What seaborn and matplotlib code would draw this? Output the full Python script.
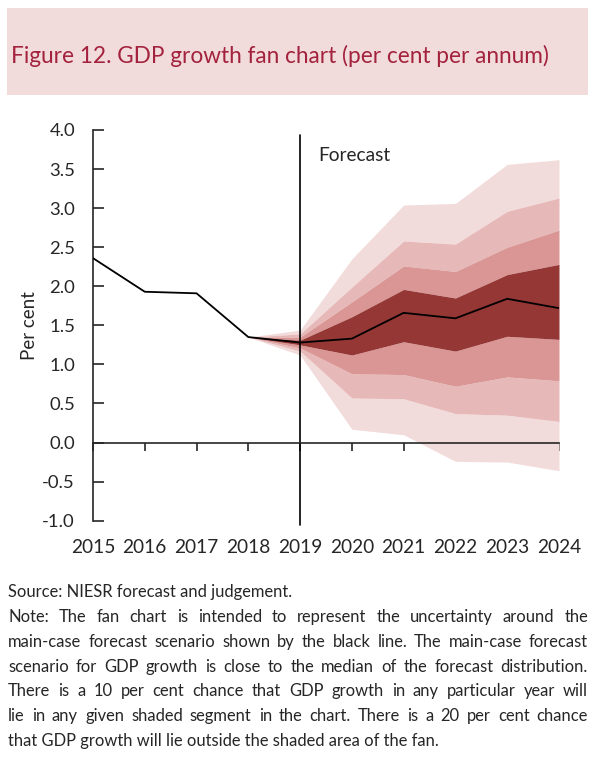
import matplotlib
matplotlib.use("Agg")
import matplotlib.pyplot as plt
from matplotlib.patches import Rectangle
import seaborn as sns
import pandas as pd

# Main-case forecast line
years = [2015, 2016, 2017, 2018, 2019, 2020, 2021, 2022, 2023, 2024]
gdp = [2.36, 1.93, 1.91, 1.35, 1.28, 1.33, 1.66, 1.59, 1.84, 1.72]

# Fan bounds (inner -> outer)
fan_years = [2018, 2019, 2020, 2021, 2022, 2023, 2024]
up1 = [1.35, 1.31, 1.61, 1.96, 1.85, 2.15, 2.28]
up2 = [1.35, 1.35, 1.80, 2.26, 2.19, 2.50, 2.72]
up3 = [1.35, 1.39, 1.99, 2.58, 2.54, 2.96, 3.13]
up4 = [1.35, 1.44, 2.35, 3.04, 3.06, 3.56, 3.62]
lo1 = [1.35, 1.25, 1.12, 1.29, 1.17, 1.36, 1.32]
lo2 = [1.35, 1.21, 0.88, 0.87, 0.72, 0.84, 0.79]
lo3 = [1.35, 1.17, 0.57, 0.56, 0.37, 0.35, 0.27]
lo4 = [1.35, 1.12, 0.17, 0.10, -0.24, -0.25, -0.36]

yticks = [4.0, 3.5, 3.0, 2.5, 2.0, 1.5, 1.0, 0.5, 0.0, -0.5, -1.0]

title = "Figure 12. GDP growth fan chart (per cent per annum)"
source = "Source: NIESR forecast and judgement."
note_lines = [
    "Note: The fan chart is intended to represent the uncertainty around the",
    "main-case forecast scenario shown by the black line. The main-case forecast",
    "scenario for GDP growth is close to the median of the forecast distribution.",
    "There is a 10 per cent chance that GDP growth in any particular year will",
    "lie in any given shaded segment in the chart. There is a 20 per cent chance",
]
note_last = "that GDP growth will lie outside the shaded area of the fan."

shades = ["#953735", "#D99694", "#E6B9B8", "#F2DCDB"]
title_bg = "#F2DCDB"
title_col = "#A3223D"

sns.set_style("ticks")
plt.rcParams['font.family'] = ['Lato', 'DejaVu Sans']

W, H = 606, 764
fig = plt.figure(figsize=(W / 100, H / 100), dpi=100)

def fx(px):
    return px / W

def fy(py):
    return 1 - py / H

# title box
fig.patches.append(Rectangle((fx(7), fy(95)), fx(581), 87 / H, transform=fig.transFigure,
                             facecolor=title_bg, edgecolor="none", zorder=0))
fig.text(fx(11), fy(56), title, color=title_col, fontsize=16.3, va="center", ha="left")

ax = fig.add_axes([fx(93), fy(520.7), fx(466), 390.7 / H])

df = pd.DataFrame({"year": years, "gdp": gdp})
fan = pd.DataFrame({"year": fan_years, "up1": up1, "up2": up2, "up3": up3, "up4": up4,
                    "lo1": lo1, "lo2": lo2, "lo3": lo3, "lo4": lo4})

ax.fill_between(fan.year, fan.lo1, fan.up1, color=shades[0], lw=0, zorder=4)
ax.fill_between(fan.year, fan.up1, fan.up2, color=shades[1], lw=0, zorder=3)
ax.fill_between(fan.year, fan.lo2, fan.lo1, color=shades[1], lw=0, zorder=3)
ax.fill_between(fan.year, fan.up2, fan.up3, color=shades[2], lw=0, zorder=2)
ax.fill_between(fan.year, fan.lo3, fan.lo2, color=shades[2], lw=0, zorder=2)
ax.fill_between(fan.year, fan.up3, fan.up4, color=shades[3], lw=0, zorder=1)
ax.fill_between(fan.year, fan.lo4, fan.lo3, color=shades[3], lw=0, zorder=1)

sns.lineplot(data=df, x="year", y="gdp", color="black", lw=1.3, ax=ax, zorder=6)

ax.plot([2019, 2019], [-1.06, 3.93], color="black", lw=1.2, clip_on=False, zorder=7)
ax.text(2019.35, 3.67, "Forecast", fontsize=13.8, va="center", ha="left")

ax.set_xlim(2015, 2024)
ax.set_ylim(-1.0, 4.0)
ax.set_yticks(yticks)
ax.set_yticklabels([f"{v:.1f}" for v in yticks], fontsize=13.3)
ax.tick_params(axis="y", direction="in", length=8, width=1.2, pad=13)
ax.set_xticks(years)
ax.set_xticklabels([])
ax.tick_params(axis="x", direction="out", length=6, width=1.2)
ax.spines["bottom"].set_position(("data", 0))
ax.spines["bottom"].set_zorder(8)
for s in ["left", "bottom"]:
    ax.spines[s].set_linewidth(1.2)
sns.despine(ax=ax)
ax.set_xlabel("")
ax.set_ylabel("Per cent", fontsize=13.5, labelpad=3)

sec = ax.secondary_xaxis(0)
sec.set_xticks(years)
sec.set_xticklabels([str(y) for y in years], fontsize=13.8)
sec.tick_params(length=0, pad=13)
sec.spines["bottom"].set_visible(False)

# source and note
fs = 11.9
fig.text(fx(8), fy(592), source, fontsize=fs, va="center", ha="left")
renderer = fig.canvas.get_renderer()
x0, x1 = 8, 588
line_y = 617
for line in note_lines:
    words = line.split()
    texts = [fig.text(0, fy(line_y), w, fontsize=fs, va="center", ha="left") for w in words]
    widths = [t.get_window_extent(renderer).width for t in texts]
    gap = max((x1 - x0 - sum(widths)) / (len(words) - 1), 2.5)
    xp = x0
    for t, w in zip(texts, widths):
        t.set_x(fx(xp))
        xp += w + gap
    line_y += 24.8
fig.text(fx(8), fy(line_y), note_last, fontsize=fs, va="center", ha="left")

fig.savefig("out.png", dpi=100)
